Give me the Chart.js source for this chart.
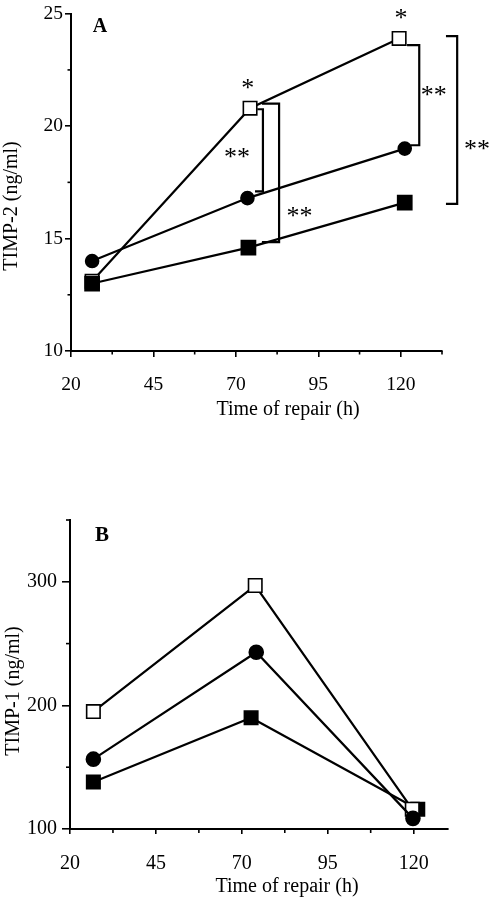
<!DOCTYPE html>
<html>
<head>
<meta charset="utf-8">
<script src="https://cdn.jsdelivr.net/npm/chart.js@4.4.1/dist/chart.umd.min.js"></script>
<style>
  html, body { margin: 0; padding: 0; background: #fff; }
  .panel { position: absolute; left: 0; width: 491px; }
  #panelA { top: 0; height: 430px; }
  #panelB { top: 450px; height: 450px; }
</style>
</head>
<body>
<div class="panel" id="panelA"><canvas id="chartA" width="491" height="430"></canvas></div>
<div class="panel" id="panelB"><canvas id="chartB" width="491" height="450"></canvas></div>
<script>
// ---- Panel A: TIMP-2 (ng/ml) over time of repair (h) ----
const hoursA_open   = [26.4, 74.3, 119.5];
const timp2_open    = [13.1, 20.8, 23.9];
const hoursA_circle = [26.4, 73.5, 121.2];
const timp2_circle  = [14.0, 16.8, 19.0];
const hoursA_filled = [26.4, 73.8, 121.2];
const timp2_filled  = [13.0, 14.6, 16.6];

const xTicksMajor = [20, 45, 70, 95, 120];
const xTicksMinorA = [32.5, 57.5, 82.5, 107.5, 132.5];
const yTicksMajorA = [10, 15, 20, 25];
const yTicksMinorA = [12.5, 17.5, 22.5];

// significance brackets (x, y in data units) and asterisks
const bracketsA = [
  [[76.5, 20.75], [78.2, 20.75], [78.2, 17.1], [75.8, 17.1]],
  [[77.9, 21.0], [83.1, 21.0], [83.1, 14.84], [77.9, 14.84]],
  [[121.9, 23.6], [125.6, 23.6], [125.6, 19.15], [122.9, 19.15]],
  [[133.7, 24.0], [137.1, 24.0], [137.1, 16.54], [133.7, 16.54]]
];
const starsA = [
  ['*', 73.6, 21.86],
  ['*', 120.1, 25.0],
  ['**', 70.3, 18.8],
  ['**', 89.3, 16.16],
  ['**', 130.0, 21.57],
  ['**', 143.1, 19.15]
];

// ---- Panel B: TIMP-1 (ng/ml) over time of repair (h) ----
const hoursB_open   = [26.8, 73.9, 119.6];
const timp1_open    = [195, 297, 116];
const hoursB_circle = [26.8, 74.2, 119.8];
const timp1_circle  = [156.5, 243, 108.6];
const hoursB_filled = [26.8, 72.7, 121.2];
const timp1_filled  = [138, 190, 116];

const xTicksMinorB = [32.5, 57.5, 82.5, 107.5];
const yTicksMajorB = [100, 200, 300];
const yTicksMinorB = [150, 250, 350];

const SERIF = '"Liberation Serif", "Times New Roman", serif';

function series(xs, ys, style, fill, radius) {
  return {
    data: xs.map((x, i) => ({ x: x, y: ys[i] })),
    showLine: true,
    borderColor: '#000',
    borderWidth: 2.2,
    pointStyle: style,
    pointRadius: radius,
    pointHoverRadius: radius,
    pointBackgroundColor: fill,
    pointBorderColor: '#000',
    pointBorderWidth: 1.6,
    tension: 0,
    clip: false
  };
}

// draws minor ticks, brackets, asterisks, panel letter and axis titles
const extrasPlugin = {
  id: 'extras',
  afterDraw(chart, args, o) {
    const ctx = chart.ctx;
    const xs = chart.scales.x, ys = chart.scales.y;
    const area = chart.chartArea;
    ctx.save();
    ctx.strokeStyle = '#000';
    ctx.fillStyle = '#000';

    ctx.lineWidth = 1.6;
    o.minorX.forEach(v => {
      const px = xs.getPixelForValue(v);
      ctx.beginPath(); ctx.moveTo(px, area.bottom); ctx.lineTo(px, area.bottom + o.minorLen); ctx.stroke();
    });
    o.minorY.forEach(v => {
      const py = ys.getPixelForValue(v);
      ctx.beginPath(); ctx.moveTo(area.left, py); ctx.lineTo(area.left - o.minorLen, py); ctx.stroke();
    });

    ctx.lineWidth = 2.2;
    (o.brackets || []).forEach(path => {
      ctx.beginPath();
      path.forEach((p, i) => {
        const px = xs.getPixelForValue(p[0]), py = ys.getPixelForValue(p[1]);
        if (i === 0) ctx.moveTo(px, py); else ctx.lineTo(px, py);
      });
      ctx.stroke();
    });

    ctx.font = '26px ' + SERIF;
    ctx.textAlign = 'center';
    ctx.textBaseline = 'alphabetic';
    (o.stars || []).forEach(s => {
      const m = ctx.measureText(s[0]);
      const px = xs.getPixelForValue(s[1]), py = ys.getPixelForValue(s[2]);
      ctx.fillText(s[0], px, py + (m.actualBoundingBoxAscent - m.actualBoundingBoxDescent) / 2);
    });

    // panel letter
    ctx.font = 'bold ' + o.letter.size + 'px ' + SERIF;
    ctx.textBaseline = 'middle';
    ctx.fillText(o.letter.text, xs.getPixelForValue(o.letter.x), ys.getPixelForValue(o.letter.y));

    // axis titles
    ctx.font = '20px ' + SERIF;
    ctx.fillText('Time of repair (h)', o.xTitle[0], o.xTitle[1]);
    ctx.translate(o.yTitle[0], o.yTitle[1]);
    ctx.rotate(-Math.PI / 2);
    ctx.fillText(o.yTitle[2], 0, 0);
    ctx.restore();
  }
};

function axisOptions(min, max, major, fontSize, tickLen, pad, fitSize, vertical) {
  return {
    type: 'linear',
    min: min,
    max: max,
    afterBuildTicks: scale => { scale.ticks = major.map(v => ({ value: v })); },
    afterFit: scale => { if (vertical) scale.width = fitSize; else scale.height = fitSize; },
    border: { display: true, color: '#000', width: 2 },
    grid: { display: true, drawOnChartArea: false, drawTicks: true, tickLength: tickLen, color: '#000', lineWidth: 1.6 },
    ticks: { color: '#000', font: { family: SERIF, size: fontSize }, padding: pad, maxRotation: 0, autoSkip: false }
  };
}

function makeChart(id, datasets, scales, padding, extras) {
  return new Chart(document.getElementById(id), {
    type: 'scatter',
    data: { datasets: datasets },
    options: {
      responsive: false,
      animation: false,
      events: [],
      layout: { padding: padding },
      plugins: { legend: { display: false }, tooltip: { enabled: false }, extras: extras },
      scales: scales
    },
    plugins: [extrasPlugin]
  });
}

// first dataset is drawn on top
makeChart('chartA', [
  series(hoursA_filled, timp2_filled, 'rect', '#000', 10),
  series(hoursA_circle, timp2_circle, 'circle', '#000', 6.5),
  series(hoursA_open, timp2_open, 'rect', '#fff', 9.5)
], {
  x: axisOptions(20, 132.5, xTicksMajor, 19.5, 6, 16, 79, false),
  y: axisOptions(10, 25, yTicksMajorA, 19.5, 6, 2, 71, true)
}, { left: 0, top: 12, right: 49, bottom: 0 }, {
  minorX: xTicksMinorA, minorY: yTicksMinorA, minorLen: 3.5,
  brackets: bracketsA, stars: starsA,
  letter: { text: 'A', x: 28.8, y: 24.4, size: 20 },
  xTitle: [288, 410], yTitle: [12, 206, 'TIMP-2 (ng/ml)']
});

makeChart('chartB', [
  series(hoursB_circle, timp1_circle, 'circle', '#000', 7),
  series(hoursB_open, timp1_open, 'rect', '#fff', 9.5),
  series(hoursB_filled, timp1_filled, 'rect', '#000', 9.5)
], {
  x: axisOptions(20, 130, xTicksMajor, 20, 5, 18, 71, false),
  y: axisOptions(100, 350, yTicksMajorB, 20, 8, 5, 70, true)
}, { left: 0, top: 70, right: 43, bottom: 0 }, {
  minorX: xTicksMinorB, minorY: yTicksMinorB, minorLen: 4,
  letter: { text: 'B', x: 29.3, y: 337, size: 21 },
  xTitle: [287, 437], yTitle: [14, 241, 'TIMP-1 (ng/ml)']
});
</script>
</body>
</html>
